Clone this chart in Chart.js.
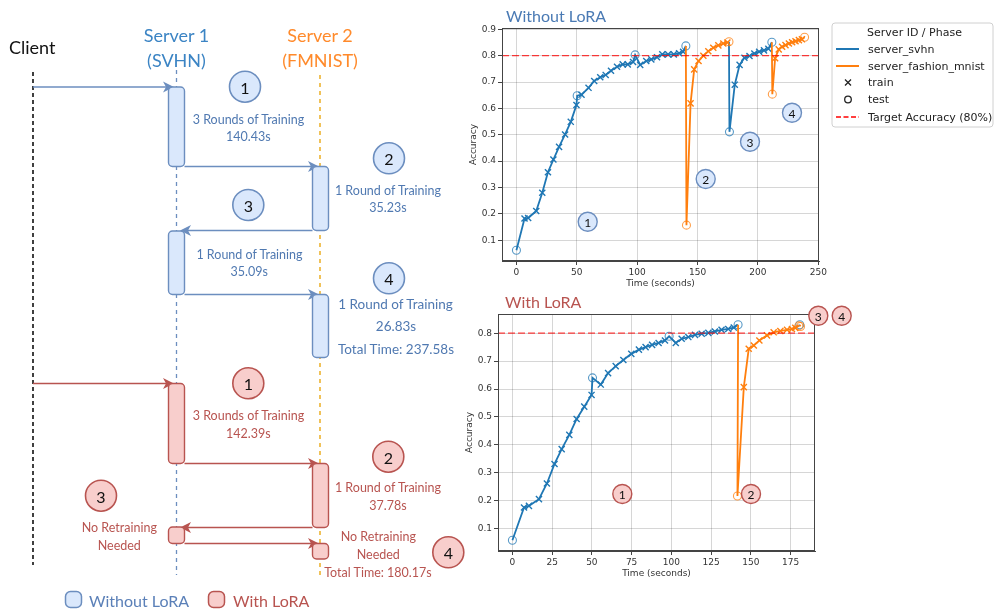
<!DOCTYPE html>
<html>
<head>
<meta charset="utf-8">
<script src="https://cdn.jsdelivr.net/npm/chart.js@4.4.0/dist/chart.umd.min.js"></script>
<style>
  html, body { margin: 0; padding: 0; background: #fff; }
  body { width: 995px; height: 612px; position: relative; overflow: hidden; font-family: Lato, "Open Sans", sans-serif; }
  canvas { position: absolute; }
  #overlay { position: absolute; left: 0; top: 0; pointer-events: none; }
</style>
</head>
<body>
<canvas id="topChart" width="370" height="292" style="left:460px;top:0px;width:370px;height:292px"></canvas>
<canvas id="bottomChart" width="370" height="281" style="left:456px;top:300px;width:370px;height:281px"></canvas>

<svg id="overlay" width="995" height="612" xmlns="http://www.w3.org/2000/svg">
  <!-- lifelines -->
  <line x1="33" y1="72" x2="33" y2="565" stroke="#111" stroke-width="1.6" stroke-dasharray="4 3"/>
  <line x1="176.5" y1="70" x2="176.5" y2="575" stroke="#6c8ebf" stroke-width="1.3" stroke-dasharray="4 4"/>
  <line x1="320" y1="75" x2="320" y2="575" stroke="#e8a202" stroke-width="1.3" stroke-dasharray="4 4"/>

  <g font-family="Lato, 'Open Sans', sans-serif" dominant-baseline="central">
    <text x="9" y="47" font-size="18" fill="#111">Client</text>
    <text x="176.5" y="35" font-size="18" fill="#3b84c4" text-anchor="middle">Server 1</text>
    <text x="176.5" y="60" font-size="18" fill="#3b84c4" text-anchor="middle">(SVHN)</text>
    <text x="320" y="35" font-size="18" fill="#ff8a2b" text-anchor="middle">Server 2</text>
    <text x="320" y="60" font-size="18" fill="#ff8a2b" text-anchor="middle">(FMNIST)</text>
  </g>

  <!-- blue arrows -->
  <g stroke="#6c8ebf" stroke-width="1.5" fill="none">
    <line x1="33" y1="87" x2="166" y2="87"/>
    <line x1="184.5" y1="166.5" x2="311" y2="166.5"/>
    <line x1="312.5" y1="230.5" x2="188" y2="230.5"/>
    <line x1="184.5" y1="294.5" x2="311" y2="294.5"/>
  </g>
  <g fill="#6c8ebf">
    <path d="M174 87 L163 81.5 L166 87 L163 92.5 Z"/>
    <path d="M319 166.5 L308 161 L311 166.5 L308 172 Z"/>
    <path d="M180 230.5 L191 225 L188 230.5 L191 236 Z"/>
    <path d="M319 294.5 L308 289 L311 294.5 L308 300 Z"/>
  </g>
  <!-- red arrows -->
  <g stroke="#b85450" stroke-width="1.5" fill="none">
    <line x1="33" y1="383.5" x2="166" y2="383.5"/>
    <line x1="184.5" y1="463.5" x2="311" y2="463.5"/>
    <line x1="312.5" y1="527.5" x2="188" y2="527.5"/>
    <line x1="184.5" y1="543.5" x2="311" y2="543.5"/>
  </g>
  <g fill="#b85450">
    <path d="M174 383.5 L163 378 L166 383.5 L163 389 Z"/>
    <path d="M319 463.5 L308 458 L311 463.5 L308 469 Z"/>
    <path d="M180 527.5 L191 522 L188 527.5 L191 533 Z"/>
    <path d="M319 543.5 L308 538 L311 543.5 L308 549 Z"/>
  </g>

  <!-- activation boxes -->
  <g fill="#dae8fc" stroke="#6c8ebf" stroke-width="1.4">
    <rect x="168.5" y="87" width="16" height="79.5" rx="4"/>
    <rect x="312.5" y="166.5" width="16" height="64" rx="4"/>
    <rect x="168.5" y="231" width="16" height="63.5" rx="4"/>
    <rect x="312.5" y="294.5" width="16" height="63" rx="4"/>
  </g>
  <g fill="#f8cecc" stroke="#b85450" stroke-width="1.4">
    <rect x="168.5" y="383.5" width="16" height="80" rx="4"/>
    <rect x="312.5" y="463.5" width="16" height="64" rx="4"/>
    <rect x="168.5" y="527" width="16" height="16.5" rx="4"/>
    <rect x="312.5" y="543.5" width="16" height="15.5" rx="4"/>
  </g>

  <!-- step circles -->
  <g fill="#dae8fc" stroke="#6c8ebf" stroke-width="1.6">
    <circle cx="245" cy="86.7" r="15.5"/>
    <circle cx="389" cy="158.3" r="15.5"/>
    <circle cx="248.3" cy="205" r="15.5"/>
    <circle cx="389" cy="278.3" r="15.5"/>
  </g>
  <g fill="#f8cecc" stroke="#b85450" stroke-width="1.6">
    <circle cx="248.3" cy="383.3" r="15.5"/>
    <circle cx="388.3" cy="456.7" r="15.5"/>
    <circle cx="101" cy="495.7" r="15.5"/>
    <circle cx="448.3" cy="552.3" r="15.5"/>
  </g>
  <g font-family="Lato, 'Open Sans', sans-serif" font-size="16" fill="#111" text-anchor="middle" dominant-baseline="central">
    <text x="245" y="87">1</text>
    <text x="389" y="158.5">2</text>
    <text x="248.3" y="205">3</text>
    <text x="389" y="278.5">4</text>
    <text x="248.3" y="383.5">1</text>
    <text x="388.3" y="457">2</text>
    <text x="101" y="496">3</text>
    <text x="448.3" y="552.5">4</text>
  </g>

  <!-- step texts -->
  <g font-family="Lato, 'Open Sans', sans-serif" font-size="12.5" fill="#5079b1" text-anchor="middle" dominant-baseline="central">
    <text x="248.5" y="119">3 Rounds of Training</text>
    <text x="248.3" y="136.5">140.43s</text>
    <text x="388" y="190.5">1 Round of Training</text>
    <text x="388" y="207.5">35.23s</text>
    <text x="249.5" y="254">1 Round of Training</text>
    <text x="249.3" y="271.5">35.09s</text>
    <text x="395.5" y="303.5" font-size="13.5">1 Round of Training</text>
    <text x="396" y="326" font-size="13.5">26.83s</text>
    <text x="396" y="349" font-size="13.5">Total Time: 237.58s</text>
  </g>
  <g font-family="Lato, 'Open Sans', sans-serif" font-size="12.5" fill="#b85450" text-anchor="middle" dominant-baseline="central">
    <text x="248.5" y="415.7">3 Rounds of Training</text>
    <text x="248.3" y="433.3">142.39s</text>
    <text x="388" y="487.3">1 Round of Training</text>
    <text x="388" y="505">37.78s</text>
    <text x="119.3" y="527.7">No Retraining</text>
    <text x="119.3" y="545">Needed</text>
    <text x="378.3" y="536">No Retraining</text>
    <text x="378.3" y="554">Needed</text>
    <text x="378" y="572.3">Total Time: 180.17s</text>
  </g>

  <!-- bottom legend -->
  <rect x="65.5" y="591.5" width="16" height="16" rx="5" fill="#dae8fc" stroke="#6c8ebf" stroke-width="1.5"/>
  <text x="89" y="600" font-family="Lato, 'Open Sans', sans-serif" font-size="16" fill="#5b80b8" dominant-baseline="central">Without LoRA</text>
  <rect x="208.5" y="591.5" width="16" height="16" rx="5" fill="#f8cecc" stroke="#b85450" stroke-width="1.5"/>
  <text x="233" y="600" font-family="Lato, 'Open Sans', sans-serif" font-size="16" fill="#b85450" dominant-baseline="central">With LoRA</text>

  <!-- chart titles -->
  <text x="506" y="15" font-family="Lato, 'Open Sans', sans-serif" font-size="16" fill="#4a7ab4" dominant-baseline="central">Without LoRA</text>
  <text x="505" y="301" font-family="Lato, 'Open Sans', sans-serif" font-size="16" fill="#b85450" dominant-baseline="central">With LoRA</text>

  <!-- chart step markers -->
  <g fill="#dae8fc" stroke="#6c8ebf" stroke-width="1.4">
    <circle cx="587.7" cy="221.7" r="9.5"/>
    <circle cx="705.7" cy="179" r="9.5"/>
    <circle cx="750" cy="141.7" r="9.5"/>
    <circle cx="792" cy="112.7" r="9.5"/>
  </g>
  <g fill="#f8cecc" stroke="#b85450" stroke-width="1.4">
    <circle cx="622.3" cy="494" r="9.5"/>
    <circle cx="751" cy="494" r="9.5"/>
    <circle cx="818.3" cy="315.7" r="9.5"/>
    <circle cx="841.7" cy="315.7" r="9.5"/>
  </g>
  <g font-family="Lato, 'Open Sans', sans-serif" font-size="12" fill="#111" text-anchor="middle" dominant-baseline="central">
    <text x="587.7" y="222">1</text>
    <text x="705.7" y="179.3">2</text>
    <text x="750" y="142">3</text>
    <text x="792" y="113">4</text>
    <text x="622.3" y="494.3">1</text>
    <text x="751" y="494.3">2</text>
    <text x="818.3" y="316">3</text>
    <text x="841.7" y="316">4</text>
  </g>

  <!-- chart legend -->
  <rect x="832" y="23" width="161" height="104" rx="3" fill="#fff" stroke="#d0d0d0" stroke-width="1"/>
  <g font-family="'DejaVu Sans', sans-serif" font-size="11" fill="#222" dominant-baseline="central">
    <text x="914.5" y="32" text-anchor="middle">Server ID / Phase</text>
    <text x="868" y="49">server_svhn</text>
    <text x="868" y="66">server_fashion_mnist</text>
    <text x="868" y="82.5">train</text>
    <text x="868" y="99.5">test</text>
    <text x="868" y="117">Target Accuracy (80%)</text>
  </g>
  <line x1="836" y1="49" x2="859" y2="49" stroke="#1f77b4" stroke-width="2"/>
  <line x1="836" y1="66" x2="859" y2="66" stroke="#ff7f0e" stroke-width="2"/>
  <path d="M845 79.5 L851 85.5 M851 79.5 L845 85.5" stroke="#222" stroke-width="1.3"/>
  <circle cx="848" cy="99.5" r="3.3" fill="none" stroke="#222" stroke-width="1.3"/>
  <line x1="836" y1="117" x2="859" y2="117" stroke="#ff0000" stroke-width="1.4" stroke-dasharray="5 2.5"/>
</svg>

<script>
// ===== Data: Without LoRA (chronological trajectory) =====
const noLoraTime = [
  0, 6.7, 9.7, 16.4, 21.4, 26.1, 30.6, 35.3, 40.3, 45.0, 49.7, 50.3,
  53.9, 59.7, 64.4, 69.4, 73.9, 78.3, 83.3, 88.0, 92.2, 96.6, 98.3,
  102.5, 107.5, 111.7, 116.4, 120.8, 125.6, 130.3, 134.7, 138.0, 140.3,
  140.8, 144.2, 147.2, 150.8, 154.8, 158.9, 163.0, 167.2, 171.3, 174.7, 176.0,
  176.4, 180.8, 184.8, 188.8, 193.0, 197.0, 201.0, 205.0, 208.6, 211.5,
  211.9, 214.2, 217.2, 220.0, 222.8, 225.6, 228.3, 231.1, 233.9, 236.4, 238.6
];
const noLoraAcc = [
  0.062, 0.182, 0.184, 0.211, 0.280, 0.358, 0.406, 0.454, 0.501, 0.549, 0.613, 0.648,
  0.652, 0.678, 0.704, 0.718, 0.727, 0.743, 0.758, 0.767, 0.767, 0.776, 0.803,
  0.765, 0.780, 0.786, 0.794, 0.805, 0.805, 0.805, 0.809, 0.815, 0.837,
  0.157, 0.619, 0.748, 0.780, 0.800, 0.817, 0.830, 0.839, 0.846, 0.850, 0.853,
  0.511, 0.690, 0.765, 0.792, 0.799, 0.808, 0.815, 0.820, 0.826, 0.851,
  0.654, 0.790, 0.824, 0.834, 0.840, 0.846, 0.851, 0.855, 0.859, 0.862, 0.870
];
const noLoraServer = [
  'svhn','svhn','svhn','svhn','svhn','svhn','svhn','svhn','svhn','svhn','svhn','svhn',
  'svhn','svhn','svhn','svhn','svhn','svhn','svhn','svhn','svhn','svhn','svhn',
  'svhn','svhn','svhn','svhn','svhn','svhn','svhn','svhn','svhn','svhn',
  'fmnist','fmnist','fmnist','fmnist','fmnist','fmnist','fmnist','fmnist','fmnist','fmnist','fmnist',
  'svhn','svhn','svhn','svhn','svhn','svhn','svhn','svhn','svhn','svhn',
  'fmnist','fmnist','fmnist','fmnist','fmnist','fmnist','fmnist','fmnist','fmnist','fmnist','fmnist'
];
const noLoraPhase = [
  'test','train','train','train','train','train','train','train','train','train','train','test',
  'train','train','train','train','train','train','train','train','train','train','test',
  'train','train','train','train','train','train','train','train','train','test',
  'test','train','train','train','train','train','train','train','train','train','test',
  'test','train','train','train','train','train','train','train','train','test',
  'test','train','train','train','train','train','train','train','train','train','test'
];

// ===== Data: With LoRA (chronological trajectory) =====
const loraTime = [
  0, 7.3, 10.4, 16.7, 21.7, 26.5, 31.0, 35.8, 40.4, 45.2, 49.8, 50.4,
  55.6, 60.2, 65.0, 69.8, 74.8, 79.6, 83.8, 87.9, 92.0, 96.0, 98.6,
  102.8, 106.5, 110.7, 114.9, 119.1, 123.3, 127.4, 131.6, 135.8, 139.3, 142.0,
  141.6, 145.6, 148.7, 151.9, 155.4, 160.2, 164.4, 168.6, 172.8, 175.9, 178.0, 180.2,
  180.8,
  181.3
];
const loraAcc = [
  0.059, 0.176, 0.182, 0.206, 0.262, 0.332, 0.385, 0.436, 0.493, 0.537, 0.579, 0.640,
  0.616, 0.657, 0.682, 0.704, 0.726, 0.741, 0.750, 0.758, 0.765, 0.774, 0.789,
  0.765, 0.780, 0.786, 0.794, 0.798, 0.801, 0.806, 0.812, 0.815, 0.820, 0.830,
  0.217, 0.607, 0.744, 0.756, 0.774, 0.792, 0.803, 0.808, 0.812, 0.815, 0.819, 0.826,
  0.830,
  0.824
];
const loraServer = [
  'svhn','svhn','svhn','svhn','svhn','svhn','svhn','svhn','svhn','svhn','svhn','svhn',
  'svhn','svhn','svhn','svhn','svhn','svhn','svhn','svhn','svhn','svhn','svhn',
  'svhn','svhn','svhn','svhn','svhn','svhn','svhn','svhn','svhn','svhn','svhn',
  'fmnist','fmnist','fmnist','fmnist','fmnist','fmnist','fmnist','fmnist','fmnist','fmnist','fmnist','fmnist',
  'svhn',
  'fmnist'
];
const loraPhase = [
  'test','train','train','train','train','train','train','train','train','train','train','test',
  'train','train','train','train','train','train','train','train','train','train','test',
  'train','train','train','train','train','train','train','train','train','train','test',
  'test','train','train','train','train','train','train','train','train','train','train','test',
  'test',
  'test'
];

const targetAccuracy = 0.8;
const accuracyTicks = [0.1, 0.2, 0.3, 0.4, 0.5, 0.6, 0.7, 0.8, 0.9];
const noLoraTimeTicks = [0, 50, 100, 150, 200, 250];
const loraTimeTicks = [0, 25, 50, 75, 100, 125, 150, 175];

// ===== Styling =====
const SVHN_COLOR = '#1f77b4';
const FMNIST_COLOR = '#ff7f0e';
Chart.defaults.font.family = "'DejaVu Sans', sans-serif";
Chart.defaults.color = '#333';

// Build one server's polyline: each new segment starts from the previous
// point of the trajectory (unmarked), segments separated by gaps.
function buildSeries(time, acc, server, phase, key) {
  const pts = [];
  for (let i = 0; i < time.length; i++) {
    if (server[i] !== key) continue;
    if (i > 0 && server[i - 1] !== key) {
      if (pts.length) pts.push({ x: time[i - 1], y: null, p: 'gap' });
      pts.push({ x: time[i - 1], y: acc[i - 1], p: 'link' });
    }
    pts.push({ x: time[i], y: acc[i], p: phase[i] });
  }
  return pts;
}

function withAlpha(hex, a) {
  const n = parseInt(hex.slice(1), 16);
  return `rgba(${(n >> 16) & 255},${(n >> 8) & 255},${n & 255},${a})`;
}

function seriesDataset(label, pts, color, order) {
  return {
    label, data: pts, order,
    borderColor: color, borderWidth: 1.8, tension: 0, spanGaps: false,
    pointStyle: c => (c.raw && c.raw.p === 'test') ? 'circle' : 'crossRot',
    pointRadius: c => {
      if (!c.raw || c.raw.p === 'link' || c.raw.p === 'gap') return 0;
      return c.raw.p === 'test' ? 4 : 4.3;
    },
    pointBorderWidth: c => (c.raw && c.raw.p === 'test') ? 1.1 : 1.4,
    pointBorderColor: c => (c.raw && c.raw.p === 'test') ? withAlpha(color, 0.75) : color,
    pointBackgroundColor: 'rgba(0,0,0,0)'
  };
}

const framePlugin = {
  id: 'frame',
  afterDraw(chart) {
    const { ctx, chartArea: a } = chart;
    ctx.save();
    ctx.strokeStyle = '#444';
    ctx.lineWidth = 1;
    ctx.strokeRect(Math.round(a.left) + 0.5, Math.round(a.top) + 0.5,
                   Math.round(a.right - a.left) - 1, Math.round(a.bottom - a.top) - 1);
    ctx.restore();
  }
};

function makeChart(id, time, acc, server, phase, xr, yr, xTicks, pad, xAxisH, yTitlePad, xTitlePadB) {
  const svhn = buildSeries(time, acc, server, phase, 'svhn');
  const fmnist = buildSeries(time, acc, server, phase, 'fmnist');
  return new Chart(document.getElementById(id), {
    type: 'line',
    data: {
      datasets: [
        { label: 'Target Accuracy (80%)', data: [{ x: xr[0], y: targetAccuracy }, { x: xr[1], y: targetAccuracy }],
          borderColor: 'rgba(255,0,0,0.75)', borderWidth: 1.3, borderDash: [7, 3], pointRadius: 0, order: 0 },
        seriesDataset('server_fashion_mnist', fmnist, FMNIST_COLOR, 1),
        seriesDataset('server_svhn', svhn, SVHN_COLOR, 2)
      ]
    },
    options: {
      responsive: false, animation: false, devicePixelRatio: 1, events: [],
      layout: { padding: pad },
      plugins: { legend: { display: false }, tooltip: { enabled: false } },
      scales: {
        x: {
          type: 'linear', min: xr[0], max: xr[1],
          afterFit: s => { s.height = xAxisH; },
          afterBuildTicks: s => { s.ticks = xTicks.filter(v => v >= xr[0] && v <= xr[1]).map(v => ({ value: v })); },
          ticks: { font: { size: 9 }, color: '#333', padding: 2, maxRotation: 0, autoSkip: false, callback: v => String(v) },
          grid: { color: 'rgba(0,0,0,0.16)', lineWidth: 1, tickColor: '#444', tickLength: 4 },
          border: { display: true, color: '#444', width: 1 },
          title: { display: true, text: 'Time (seconds)', font: { size: 9 }, color: '#333', padding: { top: 0, bottom: xTitlePadB } }
        },
        y: {
          type: 'linear', min: yr[0], max: yr[1],
          afterFit: s => { s.width = 42; },
          afterBuildTicks: s => { s.ticks = accuracyTicks.filter(v => v >= yr[0] && v <= yr[1]).map(v => ({ value: v })); },
          ticks: { font: { size: 9 }, color: '#333', padding: 2, autoSkip: false, callback: v => Number(v).toFixed(1) },
          grid: { color: 'rgba(0,0,0,0.16)', lineWidth: 1, tickColor: '#444', tickLength: 4 },
          border: { display: true, color: '#444', width: 1 },
          title: { display: true, text: 'Accuracy', font: { size: 9 }, color: '#333', padding: { top: yTitlePad, bottom: 0 } }
        }
      }
    },
    plugins: [framePlugin]
  });
}

makeChart('topChart', noLoraTime, noLoraAcc, noLoraServer, noLoraPhase,
  [-11.95, 250.55], [0.021, 0.905], noLoraTimeTicks, { top: 28, right: 11, left: 0, bottom: 0 }, 31, 8, 3);
makeChart('bottomChart', loraTime, loraAcc, loraServer, loraPhase,
  [-9.07, 190.4], [0.0204, 0.8686], loraTimeTicks, { top: 14, right: 11, left: 0, bottom: 0 }, 30, 8, 2);
</script>
</body>
</html>
